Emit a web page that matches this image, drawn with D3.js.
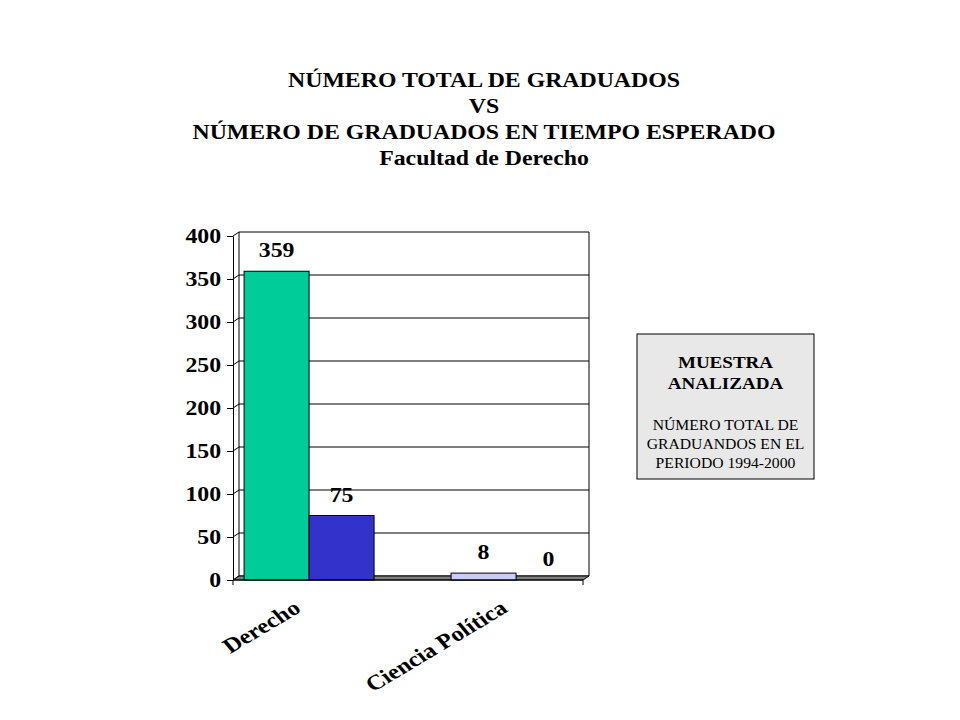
<!DOCTYPE html>
<html>
<head>
<meta charset="utf-8">
<script src="https://cdn.jsdelivr.net/npm/d3@7"></script>
<style>
  body { margin: 0; background: #fff; }
  text { font-family: "Liberation Serif", "Times New Roman", serif; }
</style>
</head>
<body>
<div id="chart"></div>
<script>
// data
var categories = ["Derecho", "Ciencia Política"];
var series = ["Total graduados", "Graduados en tiempo esperado"];
var totalGraduados = [359, 8];
var tiempoEsperado = [75, 0];
var yTicks = [0, 50, 100, 150, 200, 250, 300, 350, 400];
var titleLines = [
  "NÚMERO TOTAL DE GRADUADOS",
  "VS",
  "NÚMERO DE GRADUADOS EN TIEMPO ESPERADO",
  "Facultad de Derecho"
];
var boxTitle = ["MUESTRA", "ANALIZADA"];
var boxText = ["NÚMERO TOTAL DE", "GRADUANDOS EN EL", "PERIODO 1994-2000"];

// colours per category, per series
var barColors = [["#00CC99", "#3333CC"], ["#CCCCFF", "#9999FF"]];

// dimensions
var svgWidth = 960;
var svgHeight = 720;
var stretch = 1.19;   // text in the original is drawn a bit wide

var plot = { left: 233, right: 583, top: 236, bottom: 580 };
var depth = { dx: 6, dy: -4 };

var svg = d3.select("#chart").append("svg")
  .attr("width", svgWidth)
  .attr("height", svgHeight);

// scales
var x0 = d3.scaleBand()
  .domain(categories)
  .range([plot.left, plot.right])
  .paddingInner(0.372)
  .paddingOuter(0.0315)
  .align(0.85);

var x1 = d3.scaleBand()
  .domain(series)
  .range([0, x0.bandwidth()]);

var y = d3.scaleLinear()
  .domain([0, 400])
  .range([plot.bottom, plot.top]);

var rows = categories.map(function(c, i) {
  return { cat: c, i: i, values: [totalGraduados[i], tiempoEsperado[i]] };
});

// title
svg.append("g").selectAll("text")
  .data(titleLines)
  .enter()
  .append("text")
  .attr("transform", (d, i) => `translate(484, ${87 + i * 26}) scale(${stretch},1)`)
  .attr("text-anchor", "middle")
  .attr("font-size", 20)
  .attr("font-weight", "bold")
  .text(d => d);

// back wall gridlines
var grid = svg.append("g");
grid.selectAll("polyline")
  .data(yTicks)
  .enter()
  .append("polyline")
  .attr("points", d => `${plot.left},${y(d)} ${plot.left + depth.dx},${y(d) + depth.dy} ${plot.right + depth.dx},${y(d) + depth.dy}`)
  .attr("fill", "none")
  .attr("stroke", "#000")
  .attr("stroke-width", 1);

grid.append("line")
  .attr("x1", plot.left + depth.dx).attr("x2", plot.left + depth.dx)
  .attr("y1", y(400) + depth.dy).attr("y2", y(0) + depth.dy)
  .attr("stroke", "#000");

grid.append("line")
  .attr("x1", plot.right + depth.dx).attr("x2", plot.right + depth.dx)
  .attr("y1", y(400) + depth.dy).attr("y2", y(0) + depth.dy)
  .attr("stroke", "#000");

// floor
svg.append("polygon")
  .attr("points", [
    [plot.left, y(0)], [plot.right, y(0)],
    [plot.right + depth.dx, y(0) + depth.dy], [plot.left + depth.dx, y(0) + depth.dy]
  ].join(" "))
  .attr("fill", "#808080")
  .attr("stroke", "#000")
  .attr("stroke-width", 1);

// bars
var groups = svg.append("g").selectAll("g")
  .data(rows)
  .enter()
  .append("g")
  .attr("transform", d => `translate(${x0(d.cat)}, 0)`);

groups.selectAll("rect")
  .data(d => d.values.map((v, j) => ({ v: v, j: j, i: d.i })))
  .enter()
  .append("rect")
  .attr("x", d => x1(series[d.j]))
  .attr("y", d => y(d.v))
  .attr("width", x1.bandwidth())
  .attr("height", d => y(0) - y(d.v))
  .attr("fill", d => barColors[d.i][d.j])
  .attr("stroke", d => d.v > 0 ? "#000" : "none")
  .attr("stroke-width", 1);

groups.selectAll("text")
  .data(d => d.values.map((v, j) => ({ v: v, j: j })))
  .enter()
  .append("text")
  .attr("transform", d => `translate(${x1(series[d.j]) + x1.bandwidth() / 2}, ${y(d.v) - 14}) scale(${stretch},1)`)
  .attr("text-anchor", "middle")
  .attr("font-size", 20)
  .attr("font-weight", "bold")
  .text(d => d.v);

// y axis
var leftAxis = d3.axisLeft(y)
  .tickValues(yTicks)
  .tickSize(6)
  .tickSizeOuter(0)
  .tickPadding(4);

var yAxis = svg.append("g")
  .attr("transform", `translate(${plot.left}, 0)`)
  .call(leftAxis);

yAxis.select(".domain").attr("stroke", "#000");
yAxis.selectAll("line").attr("stroke", "#000");
yAxis.selectAll("text")
  .attr("font-family", "Liberation Serif, Times New Roman, serif")
  .attr("font-size", 20)
  .attr("font-weight", "bold")
  .attr("fill", "#000")
  .attr("transform", `scale(${stretch},1)`);

// x axis
var bottomAxis = d3.axisBottom(x0).tickSize(0).tickFormat("");
var xAxis = svg.append("g")
  .attr("transform", `translate(0, ${plot.bottom})`)
  .call(bottomAxis);
xAxis.select(".domain").attr("d", `M${plot.left},5V0H${plot.right}V5`).attr("stroke", "#000");

svg.append("g").selectAll("text")
  .data(categories)
  .enter()
  .append("text")
  .attr("transform", d => `translate(${x0(d) + x0.bandwidth() / 2 - 7}, 611) scale(${stretch},1) rotate(-35.5)`)
  .attr("text-anchor", "end")
  .attr("font-size", 21)
  .attr("font-weight", "bold")
  .text(d => d);

// note box
var box = svg.append("g");
box.append("rect")
  .attr("x", 637).attr("y", 334)
  .attr("width", 177).attr("height", 145)
  .attr("fill", "#E8E8E8")
  .attr("stroke", "#000")
  .attr("stroke-width", 1);

box.selectAll("text.head")
  .data(boxTitle)
  .enter()
  .append("text")
  .attr("class", "head")
  .attr("transform", (d, i) => `translate(725.5, ${368 + i * 21}) scale(${stretch},1)`)
  .attr("text-anchor", "middle")
  .attr("font-size", 16)
  .attr("font-weight", "bold")
  .text(d => d);

box.selectAll("text.body")
  .data(boxText)
  .enter()
  .append("text")
  .attr("class", "body")
  .attr("transform", (d, i) => `translate(725.5, ${430 + i * 19}) scale(1.12,1)`)
  .attr("text-anchor", "middle")
  .attr("font-size", 14)
  .text(d => d);
</script>
</body>
</html>
